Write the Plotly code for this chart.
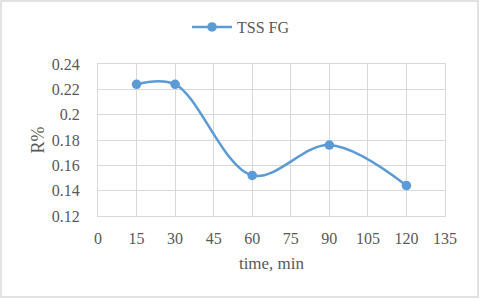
import plotly.graph_objects as go

time_min = [15, 30, 60, 90, 120]
r_percent = [0.224, 0.224, 0.152, 0.176, 0.144]
series_name = "TSS FG"

x_tick_vals = [0, 15, 30, 45, 60, 75, 90, 105, 120, 135]
x_tick_text = ["0", "15", "30", "45", "60", "75", "90", "105", "120", "135"]
y_tick_vals = [0.12, 0.14, 0.16, 0.18, 0.20, 0.22, 0.24]
y_tick_text = ["0.12", "0.14", "0.16", "0.18", "0.2", "0.22", "0.24"]

font_family = "Liberation Serif, Times New Roman, serif"
text_color = "#595959"
grid_color = "#D9D9D9"
blue = "#5B9BD5"

fig = go.Figure()
fig.add_trace(go.Scatter(
    x=time_min, y=r_percent, name=series_name,
    mode="lines+markers",
    line=dict(color=blue, width=2.5, shape="spline", smoothing=1.0),
    marker=dict(color=blue, size=9.5),
))

fig.update_layout(
    width=480, height=299,
    margin=dict(l=98, r=35, t=64, b=83, autoexpand=False),
    paper_bgcolor="white", plot_bgcolor="white",
    font=dict(family=font_family, color=text_color, size=16),
    showlegend=True,
    legend=dict(orientation="h", x=(241 - 98) / 347, xanchor="center", y=1 + 37/152, yanchor="middle",
                itemwidth=40,
                font=dict(size=16, color=text_color), bgcolor="rgba(0,0,0,0)"),
    xaxis=dict(
        range=[0, 135], tickvals=x_tick_vals, ticktext=x_tick_text,
        showgrid=True, gridcolor=grid_color, gridwidth=1,
        showline=True, linecolor=grid_color, linewidth=1, mirror=True,
        zeroline=False, ticks="", ticklabelstandoff=8,
        title=dict(text="time, min", font=dict(size=17, color=text_color), standoff=10),
        tickfont=dict(size=16, color=text_color),
    ),
    yaxis=dict(
        range=[0.12, 0.24], tickvals=y_tick_vals, ticktext=y_tick_text,
        showgrid=True, gridcolor=grid_color, gridwidth=1,
        showline=True, linecolor=grid_color, linewidth=1, mirror=True,
        zeroline=False, ticks="", ticklabelstandoff=14,
        title=dict(text="R%", font=dict(size=18, color=text_color), standoff=2),
        tickfont=dict(size=16, color=text_color),
    ),
)

fig.add_shape(type="rect", xref="paper", yref="paper",
              x0=-97/347, x1=1 + 33/347, y0=-81/152, y1=1 + 63/152,
              line=dict(color="#D9D9D9", width=1.5), fillcolor="rgba(0,0,0,0)", layer="below")

fig.write_html("out.html", config={"displayModeBar": False},
               post_script="document.body.style.margin='0';document.body.style.overflow='hidden';")
